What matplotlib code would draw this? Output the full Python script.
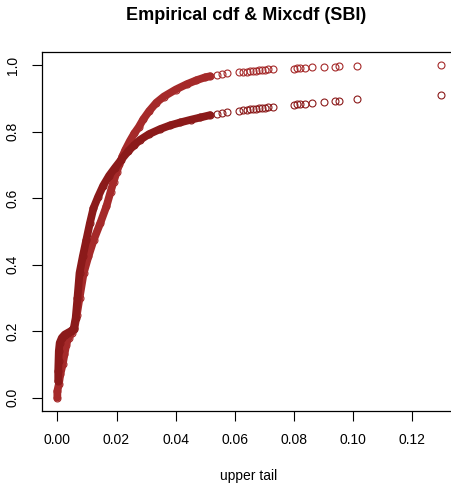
import matplotlib
matplotlib.use("Agg")
import numpy as np
import matplotlib.pyplot as plt

# dense part of the empirical cdf (points overlap into a solid band)
ecdf_band_x = [0.0000, 0.0000, 0.0005, 0.0010, 0.0018, 0.0024, 0.0030, 0.0038, 0.0048,
               0.0058, 0.0066, 0.0075, 0.0089, 0.0105, 0.0123, 0.0145, 0.0166, 0.0180,
               0.0190, 0.0200, 0.0210, 0.0220, 0.0230, 0.0245, 0.0260, 0.0275, 0.0290,
               0.0310, 0.0335, 0.0360, 0.0400, 0.0437, 0.0470, 0.0500, 0.0516]
ecdf_band_y = [0.000, 0.020, 0.040, 0.070, 0.100, 0.130, 0.160, 0.180, 0.195,
               0.210, 0.250, 0.300, 0.375, 0.425, 0.475, 0.525, 0.576, 0.620,
               0.650, 0.678, 0.703, 0.726, 0.746, 0.772, 0.795, 0.814, 0.837,
               0.862, 0.888, 0.906, 0.927, 0.943, 0.955, 0.964, 0.967]

# dense part of the mixture cdf
mix_band_x = [0.0003, 0.0003, 0.0004, 0.0005, 0.0008, 0.0015, 0.0025, 0.0035, 0.0045,
              0.0055, 0.0062, 0.0068, 0.0075, 0.0086, 0.0098, 0.0110, 0.0122, 0.0138,
              0.0155, 0.0175, 0.0195, 0.0215, 0.0240, 0.0260, 0.0280, 0.0310, 0.0347,
              0.0380, 0.0415, 0.0450, 0.0483, 0.0516]
mix_band_y = [0.050, 0.080, 0.110, 0.140, 0.165, 0.180, 0.190, 0.195, 0.200,
              0.207, 0.240, 0.300, 0.375, 0.425, 0.475, 0.525, 0.570, 0.605,
              0.638, 0.668, 0.692, 0.715, 0.742, 0.760, 0.776, 0.793, 0.808,
              0.819, 0.828, 0.836, 0.843, 0.850]

# sparse upper tail, same x for both curves
tail_x = [0.0539, 0.0556, 0.0573, 0.0615, 0.0629, 0.0640, 0.0651, 0.0661, 0.0672,
          0.0683, 0.0691, 0.0702, 0.0713, 0.0730, 0.0798, 0.0809, 0.0821, 0.0837,
          0.0860, 0.0902, 0.0939, 0.0950, 0.1012, 0.1297]
tail_ecdf = [0.972, 0.974, 0.976, 0.979, 0.980, 0.981, 0.982, 0.983, 0.984,
             0.985, 0.986, 0.987, 0.988, 0.989, 0.990, 0.991, 0.992, 0.993,
             0.994, 0.995, 0.996, 0.997, 0.999, 1.000]
tail_mix = [0.854, 0.856, 0.858, 0.864, 0.866, 0.867, 0.868, 0.869, 0.870,
            0.871, 0.872, 0.873, 0.874, 0.876, 0.882, 0.883, 0.884, 0.885,
            0.887, 0.890, 0.893, 0.894, 0.899, 0.912]

xticks = [0.00, 0.02, 0.04, 0.06, 0.08, 0.10, 0.12]
yticks = [0.0, 0.2, 0.4, 0.6, 0.8, 1.0]

col_ecdf = "#A52A2A"
col_mix = "#8B1A1A"

plt.rcParams["font.family"] = ["Liberation Sans", "DejaVu Sans"]

fig = plt.figure(figsize=(4.52, 4.84), dpi=100)
ax = fig.add_axes([42 / 452, 1 - 411 / 484, (456 - 42) / 452, (411 - 52) / 484])

for bx, by, tx, ty, c in [(ecdf_band_x, ecdf_band_y, tail_x, tail_ecdf, col_ecdf),
                          (mix_band_x, mix_band_y, tail_x, tail_mix, col_mix)]:
    ax.plot(bx, by, "-", color=c, lw=5.6, solid_capstyle="round",
            solid_joinstyle="round")
    ax.plot(bx + tx, by + ty, "o", mfc="none", mec=c, ms=5, mew=0.8)

ax.set_xlim(-0.00518, 0.1347)
ax.set_ylim(-0.04, 1.04)
ax.set_xticks(xticks)
ax.set_xticklabels([f"{v:.2f}" for v in xticks])
ax.set_yticks(yticks)
ax.set_yticklabels([f"{v:.1f}" for v in yticks], rotation=90, va="center")
ax.tick_params(direction="out", length=7, width=0.8, labelsize=10, pad=9)
for s in ax.spines.values():
    s.set_linewidth(0.9)

ax.set_xlabel("upper tail", fontsize=10, labelpad=16)
fig.text(0.545, 1 - 16 / 484, "Empirical cdf & Mixcdf (SBI)", ha="center",
         va="center", fontsize=13, fontweight="bold")

fig.savefig("out.png", dpi=100)
